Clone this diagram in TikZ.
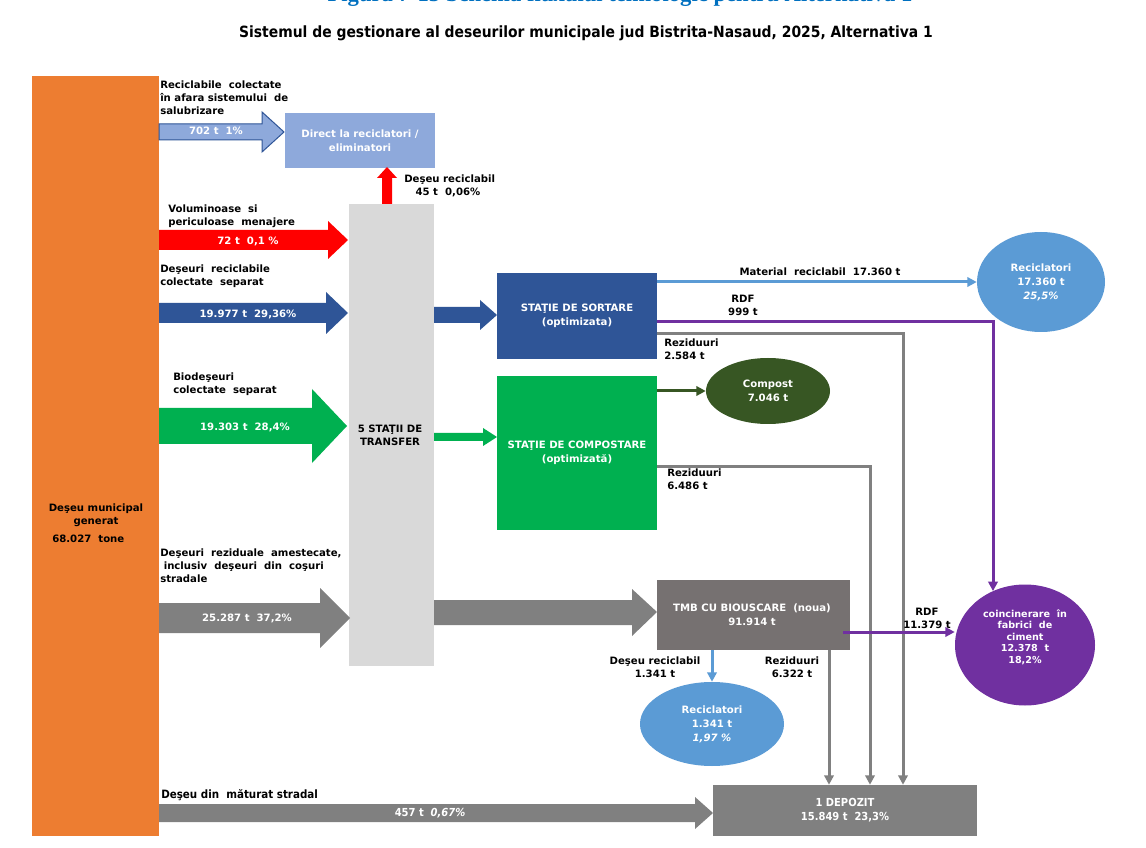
\documentclass[tikz,border=0pt]{standalone}
\usepackage{fontspec}
\setmainfont{DejaVu Sans}
\newfontfamily\condfont{DejaVu Sans Condensed}
\newfontfamily\titleserif{Liberation Serif}
\usetikzlibrary{shapes.geometric,arrows.meta}
\definecolor{orangeC}{HTML}{ED7D31}
\definecolor{lblueBox}{HTML}{8EA9DB}
\definecolor{dblue}{HTML}{2F5597}
\definecolor{redC}{HTML}{FF0000}
\definecolor{greenC}{HTML}{00B050}
\definecolor{grayA}{HTML}{808080}
\definecolor{grayT}{HTML}{D9D9D9}
\definecolor{grayTMB}{HTML}{767171}
\definecolor{compC}{HTML}{375623}
\definecolor{recC}{HTML}{5B9BD5}
\definecolor{purpC}{HTML}{7030A0}
\definecolor{titleblue}{HTML}{0070C0}
\begin{document}
\begin{tikzpicture}[x=0.75pt,y=-0.75pt,
  lbl/.style={font=\bfseries\fontsize{7.6}{9.75}\selectfont, inner sep=0, align=left, text=black},
  clbl/.style={lbl, align=center},
  wlbl/.style={font=\bfseries\fontsize{7.6}{9.75}\selectfont, inner sep=0, align=center, text=white},
  boxC/.style={rectangle, inner sep=0, draw=none},
  ell/.style={ellipse, inner sep=0, draw=none, font=\bfseries\fontsize{7.6}{10.5}\selectfont, align=center, text=white},
  conn/.style={line width=2.25pt},
  tipA/.style={-{Triangle[length=7pt,width=7pt]}}
]
\clip (0,0) rectangle (1146,848);
\fill[white] (0,0) rectangle (1146,848);

% clipped figure caption
\node[anchor=base, inner sep=0, text=titleblue, font=\titleserif\bfseries\fontsize{17}{20}\selectfont] (cap) at (620,2) {Figura 7-15 Schema fluxului tehnologic pentru Alternativa 1};

% title
\node[inner sep=0, font=\condfont\bfseries\fontsize{11.6}{13}\selectfont] (title) at (586,33) {Sistemul de gestionare al deseurilor municipale jud Bistrita-Nasaud, 2025, Alternativa 1};

% main boxes
\node[boxC, fill=orangeC, minimum width=95.25pt, minimum height=570pt] (gen) at (95.5,456) {};
\node[clbl] (gentxt) at (96,515) {Deşeu municipal\\generat};
\node[lbl, anchor=west] (gentot) at (52,539) {68.027~~tone};

\node[boxC, fill=lblueBox, minimum width=112.5pt, minimum height=41.25pt, font=\bfseries\fontsize{7.6}{10.5}\selectfont, text=white, align=center] (direct) at (360,140.5) {Direct la reciclatori /\\eliminatori};

\node[boxC, fill=grayT, minimum width=63.75pt, minimum height=346.5pt] (transfer) at (391.5,435) {};
\node[clbl] (transtxt) at (390,435) {5 STAŢII DE\\TRANSFER};

\node[boxC, fill=dblue, minimum width=120pt, minimum height=64.5pt, font=\bfseries\fontsize{7.6}{10.5}\selectfont, text=white, align=center] (sort) at (577,316) {STAŢIE DE SORTARE\\(optimizata)};
\node[boxC, fill=greenC, minimum width=120pt, minimum height=115.5pt] (compbox) at (577,453) {};
\node[wlbl, font=\bfseries\fontsize{7.6}{10.5}\selectfont] (comptxt) at (577,453) {STAŢIE DE COMPOSTARE\\(optimizată)};
\node[boxC, fill=grayTMB, minimum width=144.75pt, minimum height=52.5pt] (tmb) at (753.5,615) {};
\node[wlbl, font=\bfseries\fontsize{7.6}{10.5}\selectfont] (tmbtxt) at (752,615) {TMB CU BIOUSCARE~~(noua)\\91.914 t};
\node[boxC, fill=grayA, minimum width=198pt, minimum height=38.25pt, font=\condfont\bfseries\fontsize{8.3}{10.5}\selectfont, text=white, align=center] (depo) at (845,810.5) {1 DEPOZIT\\15.849 t~~23,3\%};

% ellipses
\node[ell, fill=compC, minimum width=93pt, minimum height=49.5pt] (compost) at (768,391) {Compost\\7.046 t};
\node[ell, fill=recC, minimum width=96pt, minimum height=75pt] (rectop) at (1041,282) {Reciclatori\\17.360 t\\\textit{25,5\%}};
\node[ell, fill=recC, minimum width=108pt, minimum height=63pt] (recbot) at (712,724) {Reciclatori\\1.341 t\\\textit{1,97 \%}};
\node[ell, fill=purpC, minimum width=105pt, minimum height=90.75pt] (coinc) at (1025,645) {};
\node[wlbl, font=\bfseries\fontsize{7.2}{8.6}\selectfont] (coinctxt) at (1025,637) {coincinerare~~în\\fabrici~~de\\ciment\\12.378~~t\\18,2\%};

% block arrows into transfer
\filldraw[fill=lblueBox, draw=dblue, line width=0.75pt] (159,124) -- (262,124) -- (262,112) -- (284,132) -- (262,152) -- (262,140) -- (159,140) -- cycle;
\fill[redC] (159,230) -- (328,230) -- (328,221) -- (348,240) -- (328,259) -- (328,250) -- (159,250) -- cycle;
\fill[dblue] (159,303) -- (326,303) -- (326,292) -- (348,313) -- (326,334) -- (326,323) -- (159,323) -- cycle;
\fill[greenC] (159,408) -- (312,408) -- (312,389) -- (347,426) -- (312,463) -- (312,444) -- (159,444) -- cycle;
\fill[grayA] (159,603) -- (320,603) -- (320,588) -- (350,618) -- (320,648) -- (320,633) -- (159,633) -- cycle;
\fill[grayA] (159,804) -- (695,804) -- (695,797) -- (713,813) -- (695,829) -- (695,822) -- (159,822) -- cycle;
% red up arrow
\fill[redC] (382,204) -- (382,178) -- (377,178) -- (387,167) -- (397,178) -- (392,178) -- (392,204) -- cycle;
% arrows out of transfer
\fill[dblue] (434,307) -- (480,307) -- (480,300) -- (497,315) -- (480,330) -- (480,323) -- (434,323) -- cycle;
\fill[greenC] (434,433) -- (483,433) -- (483,428) -- (497,437) -- (483,446) -- (483,441) -- (434,441) -- cycle;
\fill[grayA] (434,600) -- (632,600) -- (632,589) -- (657,612) -- (632,636) -- (632,625) -- (434,625) -- cycle;

% texts in arrows
\node[wlbl] (t1) at (216,131) {702 t~~1\%};
\node[wlbl] (t2) at (248,241) {72 t~~0,1 \%};
\node[wlbl] (t3) at (248,314) {19.977 t~~29,36\%};
\node[wlbl] (t4) at (245,427) {19.303 t~~28,4\%};
\node[wlbl] (t5) at (247,618) {25.287 t~~37,2\%};
\node[wlbl, font=\condfont\bfseries\fontsize{8.3}{10}\selectfont] (t6) at (430,813) {457 t~~\textit{0,67\%}};

% labels above arrows
\node[lbl, anchor=north west] (l1) at (160,81) {Reciclabile~~colectate\\în afara sistemului~~de\\salubrizare};
\node[lbl, anchor=north west] (l2) at (168,205) {Voluminoase~~si\\periculoase~~menajere};
\node[lbl, anchor=north west] (l3) at (160,265) {Deşeuri~~reciclabile\\colectate~~separat};
\node[lbl, anchor=north west] (l4) at (173,373) {Biodeşeuri\\colectate~~separat};
\node[lbl, anchor=north west] (l5) at (160,549) {Deşeuri~~reziduale~~amestecate,\\~inclusiv~~deşeuri~~din~~coşuri\\stradale};
\node[lbl, anchor=north west, font=\condfont\bfseries\fontsize{8.6}{10}\selectfont] (l6) at (161,789) {Deşeu din~~măturat stradal};
\node[lbl, anchor=north west] (l7) at (404,175) {Deşeu reciclabil\\\hspace*{8.5pt}45 t~~0,06\%};

% connectors
\coordinate (rdfturn) at (993,322);
\coordinate (g1) at (903,334);
\coordinate (g2) at (870,466);
\coordinate (g3) at (829,650);
\coordinate (p2) at (843,632);

\draw[conn, color=recC, tipA] (sort.east |- rectop.west) -- (rectop.west);
\draw[conn, color=purpC, tipA] (sort.east |- rdfturn) -- (rdfturn) -- (rdfturn |- coinc.121);
\draw[conn, color=grayA, tipA] (sort.east |- g1) -- (g1) -- (g1 |- depo.north);
\draw[conn, color=grayA, tipA] (compbox.east |- g2) -- (g2) -- (g2 |- depo.north);
\draw[conn, color=grayA, tipA] (g3) -- (g3 |- depo.north);
\draw[conn, color=compC, tipA] (compbox.east |- compost.west) -- (compost.west);
\draw[conn, color=recC, tipA] (tmb.south -| recbot.north) -- (recbot.north);
\draw[conn, color=purpC, tipA] (p2) -- (p2 -| coinc.west);

% connector labels
\node[clbl] (lmat) at (820,272) {Material~~reciclabil~~17.360 t};
\node[clbl] (lrdf1) at (743,305) {RDF\\999 t};
\node[lbl, anchor=north west] (lrez1) at (664,339) {Reziduuri\\2.584 t};
\node[lbl, anchor=north west] (lrez2) at (667,469) {Reziduuri\\6.486 t};
\node[clbl] (lrez3) at (792,667) {Reziduuri\\6.322 t};
\node[clbl] (ldr) at (655,667) {Deşeu reciclabil\\1.341 t};
\node[clbl] (lrdf2) at (927,618) {RDF\\11.379 t};
\end{tikzpicture}
\end{document}
